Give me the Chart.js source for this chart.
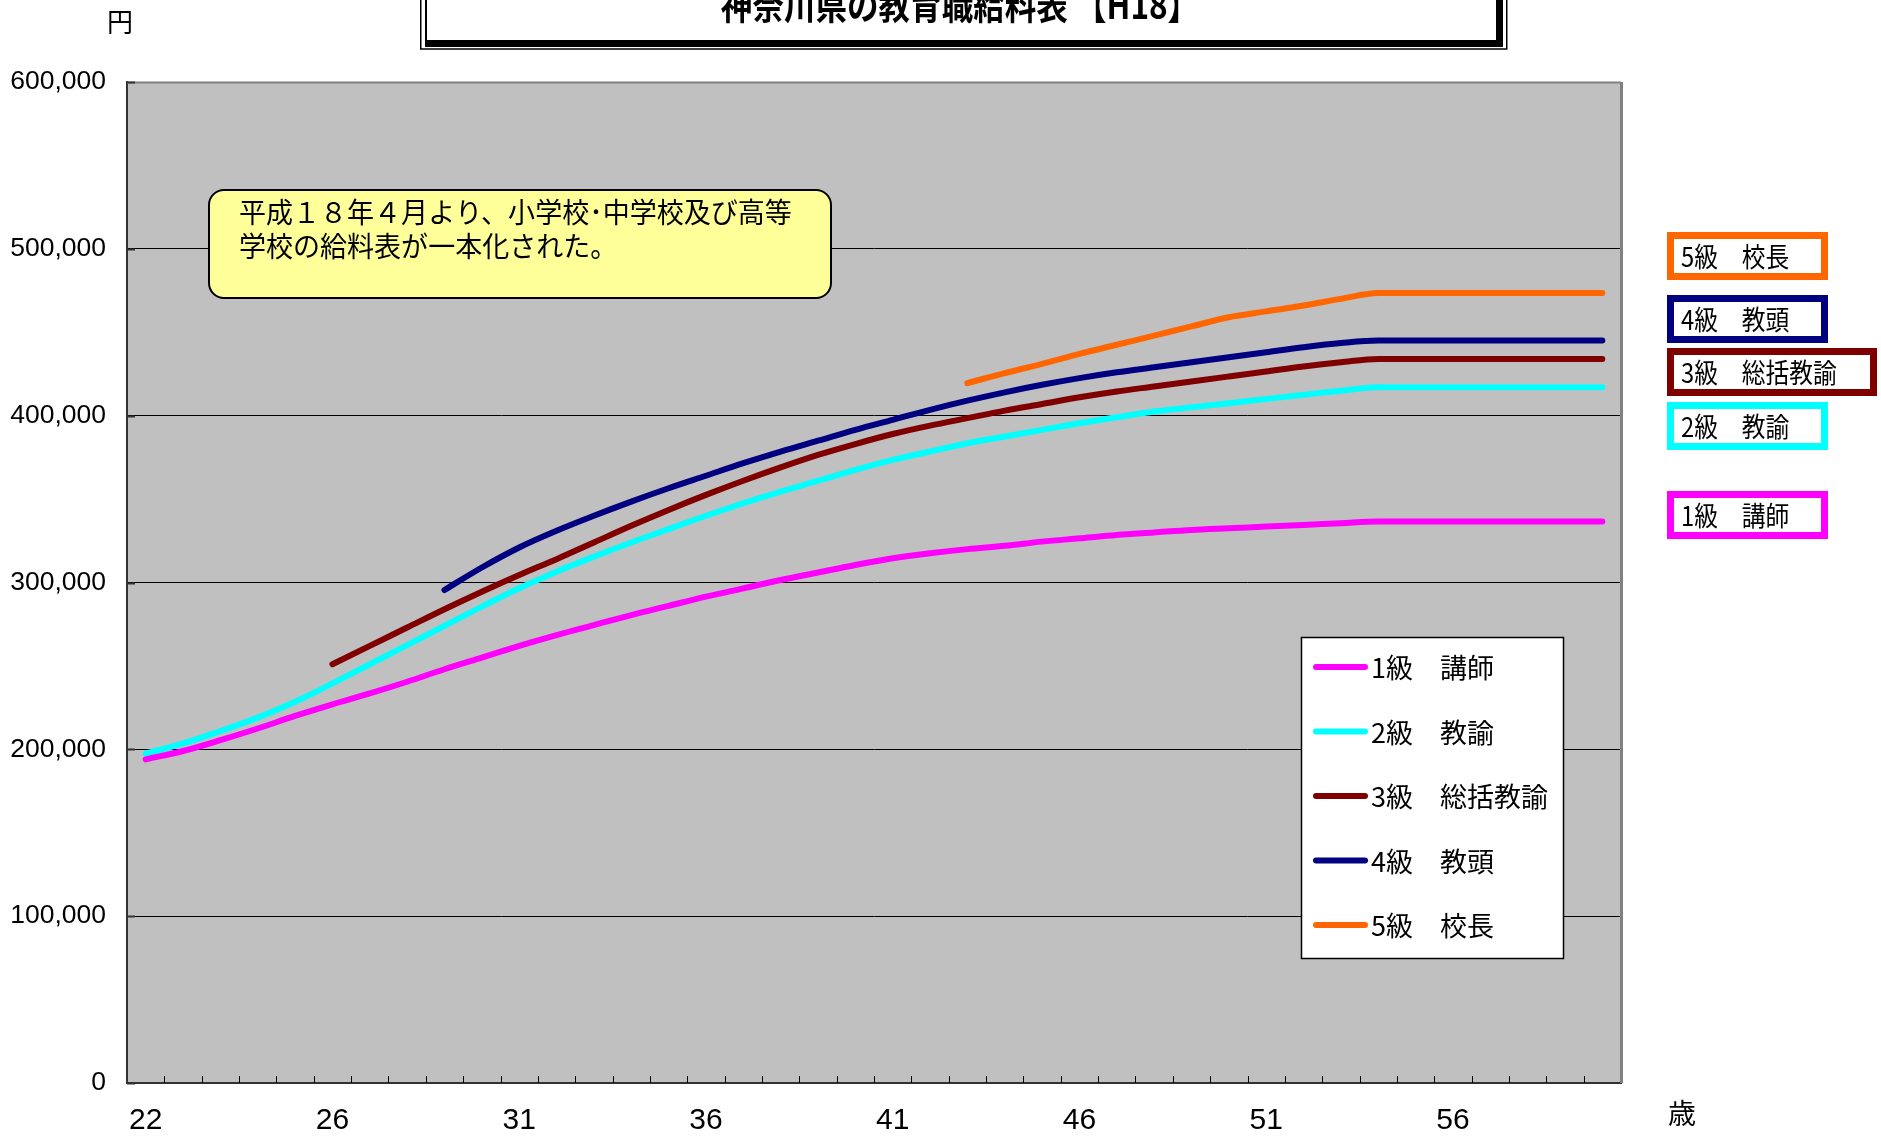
<!DOCTYPE html>
<html lang="ja">
<head>
<meta charset="utf-8">
<title>神奈川県の教育職給料表 【H18】</title>
<script src="https://cdn.jsdelivr.net/npm/chart.js@4/dist/chart.umd.min.js"></script>
<style>
  html, body { margin: 0; padding: 0; background: #ffffff; }
  #wrap { width: 1881px; height: 1138px; }
</style>
</head>
<body>
<div id="wrap"><canvas id="c" width="1881" height="1138"></canvas></div>
<script>
// 年齢（横軸の区分）
const ages = [22, 22, 23, 24, 25, 26, 27, 28, 29, 30,
              31, 32, 33, 34, 35, 36, 37, 38, 39, 40,
              41, 42, 43, 44, 45, 46, 47, 48, 49, 50,
              51, 52, 53, 54, 55, 56, 57, 58, 59, 60];

// 級ごとの名称
const gradeNames = ['1級　講師', '2級　教諭', '3級　総括教諭', '4級　教頭', '5級　校長'];

// 給料月額（円）
const grade1 = [194000, 199000, 205500, 212500, 220000, 227000, 233500, 240500, 248000, 255000,
                262000, 268500, 274500, 280500, 286000, 291500, 296500, 301500, 306000, 310500,
                314500, 317500, 320000, 322000, 324500, 326500, 328500, 330000, 331500, 332500,
                333500, 334500, 335500, 336500, 336500, 336500, 336500, 336500, 336500, 336500];
const grade2 = [197500, 203500, 211000, 219000, 228500, 239500, 251000, 262500, 274000, 285500,
                296500, 306500, 315500, 324000, 332000, 340000, 347500, 354500, 361000, 367500,
                373500, 378500, 383500, 387500, 391500, 395500, 399000, 402500, 405000, 407500,
                410000, 412500, 415000, 417000, 417000, 417000, 417000, 417000, 417000, 417000];
const grade3 = [null, null, null, null, null, 251000, 262000, 273000, 284000, 294500,
                304500, 314000, 324000, 334000, 343500, 352500, 361000, 369000, 376500, 383000,
                389000, 394000, 398500, 403000, 407000, 411000, 414500, 417500, 420500, 423500,
                426500, 429500, 432000, 434000, 434000, 434000, 434000, 434000, 434000, 434000];
const grade4 = [null, null, null, null, null, null, null, null, 295500, 309000,
                321000, 331000, 340000, 348500, 356500, 364000, 371500, 378500, 385000, 391500,
                397500, 403500, 409000, 414000, 418500, 422500, 426000, 429000, 432000, 435000,
                438000, 441000, 443500, 445000, 445000, 445000, 445000, 445000, 445000, 445000];
const grade5 = [null, null, null, null, null, null, null, null, null, null,
                null, null, null, null, null, null, null, null, null, null,
                null, null, 419500, 425500, 431000, 437000, 442500, 448000, 453500, 459000,
                462500, 466000, 470000, 473500, 473500, 473500, 473500, 473500, 473500, 473500];

// 縦軸の目盛
const yTicks = [0, 100000, 200000, 300000, 400000, 500000, 600000];
// 横軸に表示する年齢の間隔（区分の数）
const xLabelEvery = 5;

const gradeColors = ['#FF00FF', '#00FFFF', '#800000', '#000080', '#FF6600'];
const gradeSeries = [grade1, grade2, grade3, grade4, grade5];

const title = '神奈川県の教育職給料表 【H18】';
const note = ['平成１８年４月より、小学校･中学校及び高等', '学校の給料表が一本化された。'];
const yUnit = '円';
const xUnit = '歳';

const JP = '"Noto Sans CJK JP", "Noto Sans", sans-serif';

// プロット領域の背景・枠・内向きの目盛
const framePlugin = {
  id: 'frame',
  beforeDraw(chart) {
    const { ctx, chartArea: a } = chart;
    ctx.save();
    ctx.fillStyle = '#ffffff';
    ctx.fillRect(0, 0, chart.width, chart.height);
    ctx.fillStyle = '#C0C0C0';
    ctx.fillRect(a.left, a.top, a.right - a.left, a.bottom - a.top);
    ctx.restore();
  },
  afterDraw(chart) {
    const { ctx, chartArea: a } = chart;
    const xs = chart.scales.x, ys = chart.scales.y;
    ctx.save();
    // 上と右の枠
    ctx.strokeStyle = '#808080';
    ctx.lineWidth = 2;
    ctx.beginPath();
    ctx.moveTo(a.left, a.top + 0.5);
    ctx.lineTo(a.right, a.top + 0.5);
    ctx.stroke();
    ctx.lineWidth = 3;
    ctx.beginPath();
    ctx.moveTo(a.right + 0.5, a.top);
    ctx.lineTo(a.right + 0.5, a.bottom);
    ctx.stroke();
    // 横軸の目盛（区分の境目）
    ctx.strokeStyle = '#000000';
    ctx.lineWidth = 1;
    const n = chart.data.labels.length;
    for (let k = 1; k < n; k++) {
      const x = Math.round((xs.getPixelForValue(k - 1) + xs.getPixelForValue(k)) / 2) + 0.5;
      ctx.beginPath();
      ctx.moveTo(x, a.bottom);
      ctx.lineTo(x, a.bottom - 7);
      ctx.stroke();
    }
    // 縦軸の目盛
    ctx.strokeStyle = '#333333';
    ctx.lineWidth = 2;
    ys.ticks.forEach(t => {
      const y = Math.round(ys.getPixelForValue(t.value)) + 0.5;
      ctx.beginPath();
      ctx.moveTo(a.left, y);
      ctx.lineTo(a.left + 8, y);
      ctx.stroke();
    });
    ctx.restore();
  }
};

function roundRect(ctx, x, y, w, h, r) {
  ctx.beginPath();
  ctx.moveTo(x + r, y);
  ctx.lineTo(x + w - r, y);
  ctx.arcTo(x + w, y, x + w, y + r, r);
  ctx.lineTo(x + w, y + h - r);
  ctx.arcTo(x + w, y + h, x + w - r, y + h, r);
  ctx.lineTo(x + r, y + h);
  ctx.arcTo(x, y + h, x, y + h - r, r);
  ctx.lineTo(x, y + r);
  ctx.arcTo(x, y, x + r, y, r);
  ctx.closePath();
}

// 表題・単位・注記・凡例・右側の級名ラベル
const decorPlugin = {
  id: 'decor',
  afterDraw(chart) {
    const ctx = chart.ctx;
    const ds = chart.data.datasets;
    ctx.save();

    // 表題の枠
    ctx.fillStyle = '#ffffff';
    ctx.fillRect(420, -10, 1087, 59);
    ctx.strokeStyle = '#000000';
    ctx.lineWidth = 1.5;
    ctx.strokeRect(420.75, -10, 1086, 59);
    ctx.fillStyle = '#000000';
    ctx.fillRect(1496, -10, 7, 57);
    ctx.fillRect(425, 40, 1078, 7);
    ctx.lineWidth = 2;
    ctx.strokeRect(426, -10, 1071, 51);

    // 表題
    ctx.save();
    ctx.translate(960, 5);
    ctx.scale(0.83, 1);
    ctx.font = 'bold 38px ' + JP;
    ctx.textAlign = 'center';
    ctx.textBaseline = 'middle';
    ctx.fillStyle = '#000000';
    ctx.fillText(title, 0, 0);
    ctx.restore();

    // 単位
    ctx.fillStyle = '#000000';
    ctx.font = '26px ' + JP;
    ctx.textAlign = 'center';
    ctx.textBaseline = 'middle';
    ctx.fillText(yUnit, 120, 22);
    ctx.font = '28px ' + JP;
    ctx.fillText(xUnit, 1682, 1113);

    // 注記
    roundRect(ctx, 209, 190, 622, 108, 15);
    ctx.fillStyle = '#FFFF99';
    ctx.fill();
    ctx.strokeStyle = '#000000';
    ctx.lineWidth = 2;
    ctx.stroke();
    ctx.save();
    ctx.translate(239, 0);
    ctx.scale(0.965, 1);
    ctx.fillStyle = '#000000';
    ctx.font = '28px ' + JP;
    ctx.textAlign = 'left';
    ctx.textBaseline = 'middle';
    ctx.fillText(note[0], 0, 212);
    ctx.fillText(note[1], 0, 246);
    ctx.restore();

    // 凡例
    ctx.fillStyle = '#ffffff';
    ctx.fillRect(1301, 637, 263, 322);
    ctx.strokeStyle = '#000000';
    ctx.lineWidth = 1.5;
    ctx.strokeRect(1301.5, 637.5, 262, 321);
    ds.forEach((d, i) => {
      const y = 667 + i * 64.5;
      ctx.strokeStyle = d.borderColor;
      ctx.lineWidth = 6;
      ctx.lineCap = 'round';
      ctx.beginPath();
      ctx.moveTo(1316, y);
      ctx.lineTo(1365, y);
      ctx.stroke();
      ctx.fillStyle = '#000000';
      ctx.font = '27px ' + JP;
      ctx.textAlign = 'left';
      ctx.textBaseline = 'middle';
      ctx.fillText(d.label, 1371, y + 1);
    });

    // 右側の級名ラベル
    const boxes = [
      { i: 4, y: 232, w: 161 },
      { i: 3, y: 295, w: 161 },
      { i: 2, y: 348, w: 210 },
      { i: 1, y: 402, w: 161 },
      { i: 0, y: 491, w: 161 }
    ];
    boxes.forEach(b => {
      const h = 48;
      ctx.fillStyle = '#ffffff';
      ctx.fillRect(1667, b.y, b.w, h);
      ctx.strokeStyle = ds[b.i].borderColor;
      ctx.lineWidth = 7;
      ctx.lineCap = 'butt';
      ctx.strokeRect(1667 + 3.5, b.y + 3.5, b.w - 7, h - 7);
      ctx.save();
      ctx.translate(1681, b.y + h / 2 + 1);
      ctx.scale(0.88, 1);
      ctx.fillStyle = '#000000';
      ctx.font = '27px ' + JP;
      ctx.textAlign = 'left';
      ctx.textBaseline = 'middle';
      ctx.fillText(ds[b.i].label, 0, 0);
      ctx.restore();
    });

    ctx.restore();
  }
};

const chart = new Chart(document.getElementById('c'), {
  type: 'line',
  data: {
    labels: ages.map(String),
    datasets: gradeSeries.map((vals, i) => ({
      label: gradeNames[i],
      data: vals,
      borderColor: gradeColors[i],
      backgroundColor: gradeColors[i],
      borderWidth: 6,
      borderCapStyle: 'round',
      borderJoinStyle: 'round',
      pointRadius: 0,
      pointHoverRadius: 0,
      fill: false,
      cubicInterpolationMode: 'monotone',
      spanGaps: false
    }))
  },
  options: {
    responsive: false,
    animation: false,
    events: [],
    layout: { padding: { top: 82, right: 260, left: 0, bottom: 0 } },
    plugins: {
      legend: { display: false },
      tooltip: { enabled: false },
      title: { display: false }
    },
    scales: {
      x: {
        type: 'category',
        offset: true,
        grid: { display: false, drawTicks: false },
        border: { display: true, color: '#333333', width: 2 },
        ticks: {
          autoSkip: false,
          maxRotation: 0,
          padding: 20,
          color: '#000000',
          font: { family: '"Liberation Sans Narrow", "Arial Narrow", "Liberation Sans", sans-serif', size: 30 },
          callback: (v, idx) => (idx % xLabelEvery === 0 ? ages[idx] : '')
        },
        afterFit: s => { s.height = 55; }
      },
      y: {
        min: yTicks[0],
        max: yTicks[yTicks.length - 1],
        afterBuildTicks: s => { s.ticks = yTicks.map(v => ({ value: v })); },
        grid: {
          drawTicks: false,
          lineWidth: 1,
          color: ctx => {
            const v = ctx.tick ? ctx.tick.value : null;
            return (v === yTicks[0] || v === yTicks[yTicks.length - 1]) ? 'rgba(0,0,0,0)' : '#000000';
          }
        },
        border: { display: true, color: '#333333', width: 2 },
        ticks: {
          padding: 21,
          color: '#000000',
          font: { family: '"Liberation Sans", Arial, sans-serif', size: 26.5 },
          callback: v => Number(v).toLocaleString('en-US')
        },
        afterFit: s => { s.width = 127; }
      }
    }
  },
  plugins: [framePlugin, decorPlugin]
});
</script>
</body>
</html>
